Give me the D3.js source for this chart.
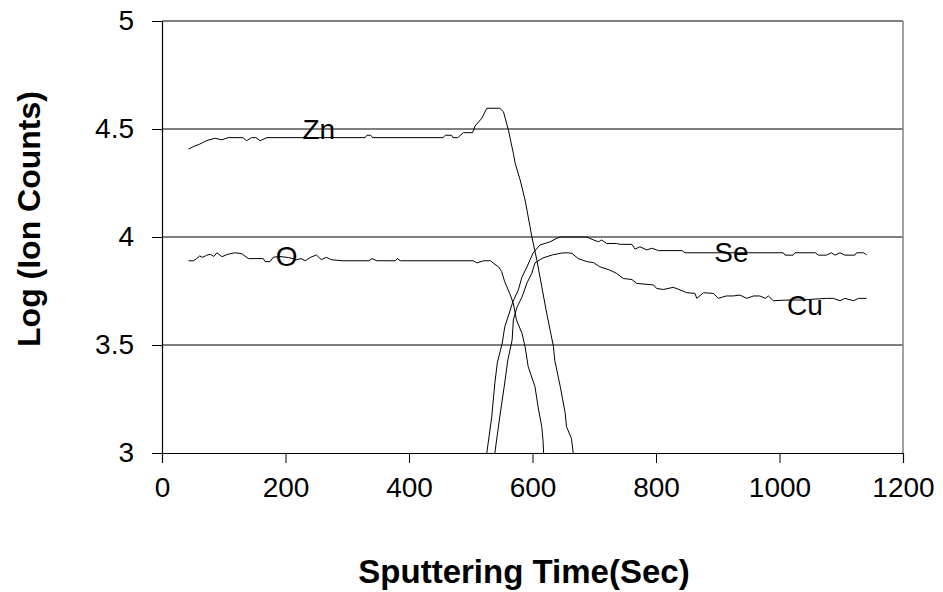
<!DOCTYPE html>
<html>
<head>
<meta charset="utf-8">
<script src="https://cdn.jsdelivr.net/npm/d3@7"></script>
<style>
  body { margin: 0; background: #fff; }
  svg { display: block; font-family: "Liberation Sans", Arial, sans-serif; }
</style>
</head>
<body>
<div id="chart"></div>
<script>
// Depth profile data (time in sec, log ion counts)
const znTime = [43, 52, 61, 72, 86, 97, 107, 131, 137, 145, 152, 159, 170, 329, 332, 338, 341, 455, 459, 469, 471, 479, 488, 503, 507, 518, 526, 547, 553, 561, 569, 572, 580, 588, 596, 599, 607, 615, 623, 634, 636, 645, 653, 655, 663, 666];
const znValue = [4.407, 4.42, 4.43, 4.446, 4.457, 4.45, 4.46, 4.46, 4.446, 4.46, 4.46, 4.446, 4.46, 4.46, 4.471, 4.471, 4.46, 4.46, 4.471, 4.471, 4.46, 4.46, 4.483, 4.483, 4.514, 4.55, 4.596, 4.596, 4.58, 4.495, 4.387, 4.341, 4.264, 4.171, 4.048, 4.0, 3.894, 3.77, 3.647, 3.492, 3.43, 3.307, 3.184, 3.122, 3.068, 3.0];

const oTime = [43, 51, 56, 61, 66, 72, 78, 84, 89, 97, 107, 118, 129, 140, 164, 167, 175, 180, 190, 205, 218, 225, 232, 240, 250, 258, 266, 274, 291, 335, 340, 348, 378, 381, 386, 504, 510, 521, 532, 537, 545, 550, 555, 563, 569, 574, 583, 588, 593, 604, 609, 615, 617, 618];
const oValue = [3.89, 3.89, 3.90, 3.912, 3.906, 3.915, 3.92, 3.91, 3.927, 3.909, 3.92, 3.927, 3.923, 3.90, 3.90, 3.886, 3.886, 3.906, 3.91, 3.905, 3.895, 3.90, 3.89, 3.905, 3.917, 3.895, 3.906, 3.895, 3.89, 3.89, 3.90, 3.89, 3.89, 3.90, 3.89, 3.89, 3.88, 3.89, 3.89, 3.878, 3.862, 3.84, 3.793, 3.739, 3.693, 3.616, 3.554, 3.492, 3.4, 3.307, 3.214, 3.122, 3.06, 3.0];

const seTime = [526, 534, 539, 543, 551, 555, 564, 568, 577, 583, 591, 596, 601, 612, 628, 640, 645, 688, 699, 707, 712, 720, 736, 742, 761, 766, 774, 785, 793, 804, 842, 847, 1006, 1009, 1022, 1025, 1058, 1063, 1076, 1084, 1090, 1098, 1106, 1122, 1125, 1136, 1141];
const seValue = [3.0, 3.167, 3.324, 3.417, 3.509, 3.583, 3.662, 3.699, 3.755, 3.815, 3.861, 3.894, 3.926, 3.963, 3.977, 3.995, 4.0, 4.0, 3.986, 3.978, 3.986, 3.97, 3.97, 3.966, 3.966, 3.944, 3.955, 3.94, 3.948, 3.937, 3.937, 3.927, 3.927, 3.916, 3.916, 3.927, 3.927, 3.916, 3.916, 3.927, 3.916, 3.927, 3.916, 3.916, 3.927, 3.927, 3.917];

const cuTime = [539, 547, 555, 560, 567, 569, 575, 583, 591, 599, 604, 617, 632, 648, 658, 664, 674, 688, 699, 709, 725, 736, 747, 761, 769, 796, 801, 812, 828, 839, 850, 863, 866, 877, 893, 901, 914, 925, 936, 947, 958, 968, 977, 982, 990, 1012, 1033, 1076, 1087, 1098, 1106, 1120, 1128, 1141];
const cuValue = [3.0, 3.167, 3.324, 3.43, 3.523, 3.616, 3.676, 3.722, 3.787, 3.833, 3.88, 3.903, 3.917, 3.926, 3.927, 3.924, 3.90, 3.886, 3.881, 3.862, 3.847, 3.832, 3.808, 3.803, 3.785, 3.778, 3.762, 3.757, 3.767, 3.755, 3.742, 3.739, 3.716, 3.742, 3.739, 3.716, 3.727, 3.727, 3.731, 3.716, 3.727, 3.727, 3.716, 3.727, 3.705, 3.708, 3.708, 3.716, 3.716, 3.705, 3.716, 3.705, 3.716, 3.716];

// Series labels drawn inside the plot (label, time, value at baseline)
const labelNames = ["Zn", "O", "Se", "Cu"];
const labelTime = [254, 202, 922, 1041];
const labelValue = [4.454, 3.866, 3.884, 3.639];

const xTicks = [0, 200, 400, 600, 800, 1000, 1200];
const yTicks = [3, 3.5, 4, 4.5, 5];

const svgWidth = 943, svgHeight = 592;
const plotLeft = 162, plotRight = 903, plotTop = 21, plotBottom = 453;

const svg = d3.select("#chart")
    .append("svg")
    .attr("width", svgWidth)
    .attr("height", svgHeight);

const x = d3.scaleLinear().domain([0, 1200]).range([plotLeft, plotRight]);
const y = d3.scaleLinear().domain([3, 5]).range([plotBottom, plotTop]);

// Horizontal grid lines (the top one closes the frame)
svg.append("g")
    .selectAll("line")
    .data(yTicks.filter(d => d > 3))
    .enter()
    .append("line")
        .attr("x1", plotLeft)
        .attr("x2", plotRight)
        .attr("y1", d => y(d))
        .attr("y2", d => y(d))
        .attr("stroke", "#000")
        .attr("stroke-width", 1);

// Right border of the plot area
svg.append("line")
    .attr("x1", plotRight).attr("x2", plotRight)
    .attr("y1", plotTop).attr("y2", plotBottom)
    .attr("stroke", "#808080")
    .attr("stroke-width", 1.5);

// Axes
const xAxis = svg.append("g")
    .attr("transform", `translate(0,${plotBottom})`)
    .call(d3.axisBottom(x).tickValues(xTicks).tickSize(10).tickPadding(14).tickFormat(d3.format("d")));
const yAxis = svg.append("g")
    .attr("transform", `translate(${plotLeft},0)`)
    .call(d3.axisLeft(y).tickValues(yTicks).tickSize(10).tickPadding(18).tickFormat(d => d));

[xAxis, yAxis].forEach(g => {
    g.select(".domain").attr("stroke", "#000").attr("stroke-width", 1.2);
    g.selectAll(".tick line").attr("stroke", "#000");
    g.selectAll(".tick text")
        .attr("fill", "#000")
        .style("font-size", "28px")
        .style("font-family", "'Liberation Sans', Arial, sans-serif");
});
xAxis.selectAll(".tick text").attr("dy", "0.71em");

// Profile lines
const line = d3.line()
    .x(d => x(d[0]))
    .y(d => y(d[1]));

const series = [
    d3.zip(znTime, znValue),
    d3.zip(oTime, oValue),
    d3.zip(seTime, seValue),
    d3.zip(cuTime, cuValue)
];

svg.append("g")
    .selectAll("path")
    .data(series)
    .enter()
    .append("path")
        .attr("d", line)
        .attr("fill", "none")
        .attr("stroke", "#000")
        .attr("stroke-width", 1);

// Element labels
svg.append("g")
    .selectAll("text")
    .data(labelNames)
    .enter()
    .append("text")
        .attr("x", (d, i) => x(labelTime[i]))
        .attr("y", (d, i) => y(labelValue[i]))
        .attr("text-anchor", "middle")
        .style("font-size", "28px")
        .text(d => d);

// Axis titles
svg.append("text")
    .attr("x", 524)
    .attr("y", 583)
    .attr("text-anchor", "middle")
    .style("font-size", "33px")
    .style("font-weight", "bold")
    .text("Sputtering Time(Sec)");

svg.append("text")
    .attr("transform", "translate(40,219) rotate(-90)")
    .attr("text-anchor", "middle")
    .style("font-size", "32px")
    .style("font-weight", "bold")
    .text("Log (Ion Counts)");
</script>
</body>
</html>
